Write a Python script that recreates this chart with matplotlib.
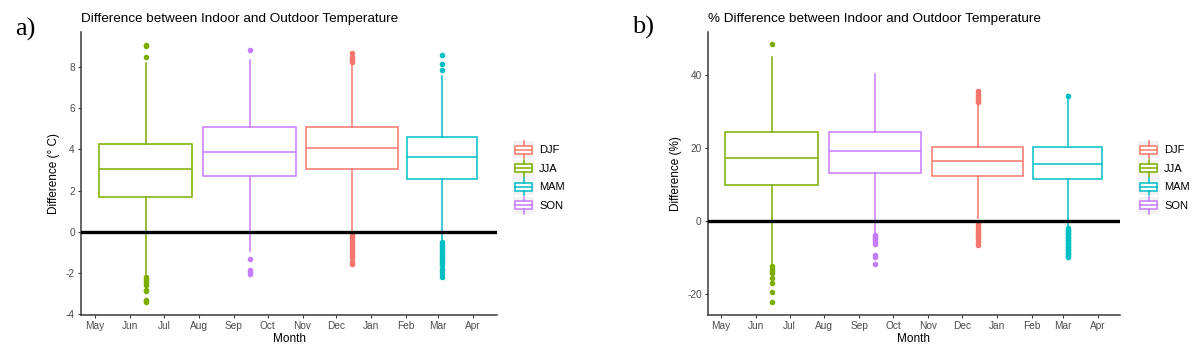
import matplotlib
matplotlib.use("Agg")
import matplotlib.pyplot as plt
import matplotlib.dates as mdates
from matplotlib.patches import Rectangle
from matplotlib.lines import Line2D
from matplotlib.legend_handler import HandlerBase
from datetime import datetime, timedelta

plt.rcParams['font.family'] = ['Liberation Sans', 'DejaVu Sans']

# ---------------- data ----------------
seasons = ['DJF', 'JJA', 'MAM', 'SON']
colors = {'DJF': '#F8766D', 'JJA': '#7CAE00', 'MAM': '#00BFC4', 'SON': '#C77CFF'}
box_dates = {'JJA': '2018-06-15', 'SON': '2018-09-15', 'DJF': '2018-12-15', 'MAM': '2019-03-05'}
month_labels = ['May', 'Jun', 'Jul', 'Aug', 'Sep', 'Oct', 'Nov', 'Dec', 'Jan', 'Feb', 'Mar', 'Apr']
month_starts = ['2018-05-01', '2018-06-01', '2018-07-01', '2018-08-01', '2018-09-01', '2018-10-01',
                '2018-11-01', '2018-12-01', '2019-01-01', '2019-02-01', '2019-03-01', '2019-04-01']

# [lower whisker, Q1, median, Q3, upper whisker]  (deg C)
abs_stats = {
    'JJA': [-2.04, 1.68, 3.02, 4.27, 8.17],
    'SON': [-0.95, 2.68, 3.86, 5.10, 8.34],
    'DJF': [0.05, 3.02, 4.06, 5.10, 8.14],
    'MAM': [-0.40, 2.58, 3.62, 4.59, 7.53],
}
abs_outliers = {
    'JJA': [8.47, 9.00, 9.05, -2.2, -2.3, -2.4, -2.5, -2.6, -2.8, -2.85, -3.3, -3.35, -3.4],
    'SON': [8.82, -1.34, -1.85, -1.95, -2.05],
    'DJF': [8.22, 8.30, 8.38, 8.45, 8.65, -0.15, -0.25, -0.4, -0.55, -0.65, -0.75, -0.85,
            -0.95, -1.05, -1.15, -1.25, -1.45, -1.55],
    'MAM': [7.85, 8.15, 8.55, -0.5, -0.6, -0.7, -0.8, -0.9, -1.0, -1.1, -1.2, -1.3, -1.4,
            -1.5, -1.6, -1.8, -1.9, -2.05, -2.2],
}
# [lower whisker, Q1, median, Q3, upper whisker]  (%)
pct_stats = {
    'JJA': [-12.0, 9.86, 17.3, 24.4, 45.0],
    'SON': [-3.4, 13.2, 19.2, 24.4, 40.3],
    'DJF': [0.7, 12.3, 16.3, 20.4, 32.2],
    'MAM': [-1.5, 11.4, 15.6, 20.4, 34.0],
}
pct_outliers = {
    'JJA': [48.5, -12.5, -13.2, -13.8, -14.4, -15.7, -17.0, -19.4, -22.3],
    'SON': [-3.8, -4.3, -4.8, -5.3, -5.9, -6.3, -9.3, -10.0, -11.8],
    'DJF': [32.5, 33.0, 33.5, 34.0, 34.5, 35.0, 35.5, -0.6, -1.2, -1.8, -2.4, -3.0, -3.6,
            -4.2, -4.8, -5.4, -6.0, -6.6],
    'MAM': [34.3, -2.0, -2.4, -2.8, -3.2, -3.6, -4.0, -4.4, -4.8, -5.2, -5.6, -6.0, -6.4,
            -6.8, -7.2, -7.6, -8.0, -8.4, -8.8, -9.2, -9.6, -9.8],
}

# ---------------- style ----------------
box_widths = {'JJA': 82, 'SON': 82, 'DJF': 81, 'MAM': 62}  # days
LW = 1.1
GRAY = '#4D4D4D'


class BoxKey(HandlerBase):
    def create_artists(self, legend, orig, xd, yd, w, h, fs, trans):
        c = orig.get_color()
        x0, y0 = -xd, -yd
        arts = [Rectangle((x0, y0), w, h, fc='#F2F2F2', ec='none', transform=trans),
                Rectangle((x0 + 0.1 * w, y0 + 0.27 * h), 0.8 * w, 0.46 * h, fc='white', ec=c,
                          lw=LW, transform=trans),
                Line2D([x0 + 0.1 * w, x0 + 0.9 * w], [y0 + 0.5 * h] * 2, color=c, lw=LW, transform=trans),
                Line2D([x0 + 0.5 * w] * 2, [y0, y0 + 0.27 * h], color=c, lw=LW, transform=trans),
                Line2D([x0 + 0.5 * w] * 2, [y0 + 0.73 * h, y0 + h], color=c, lw=LW, transform=trans)]
        return arts


W, H = 1200, 355
fig = plt.figure(figsize=(W / 100, H / 100), dpi=100)

may1 = datetime(2018, 5, 1)


def draw_panel(ax, stats, outl, xlim_days, ylim, yticks, ylabel, title, tag, tag_xy, title_x, leg_xy):
    for s in ['JJA', 'SON', 'DJF', 'MAM']:
        c = colors[s]
        lo, q1, med, q3, hi = stats[s]
        st = dict(whislo=lo, q1=q1, med=med, q3=q3, whishi=hi, fliers=outl[s])
        pos = mdates.datestr2num(box_dates[s])
        ax.bxp([st], positions=[pos], widths=[box_widths[s]], showcaps=False, patch_artist=True,
               boxprops=dict(facecolor='white', edgecolor=c, lw=LW),
               medianprops=dict(color=c, lw=LW),
               whiskerprops=dict(color=c, lw=LW),
               flierprops=dict(marker='o', mfc=c, mec=c, ms=3.0, lw=0),
               manage_ticks=False)
    ax.axhline(0, color='black', lw=2.4, zorder=5)
    ax.set_xlim(mdates.date2num(may1 + timedelta(days=xlim_days[0])),
                mdates.date2num(may1 + timedelta(days=xlim_days[1])))
    ax.set_ylim(*ylim)
    ax.set_xticks([mdates.datestr2num(d) for d in month_starts])
    ax.set_xticklabels(month_labels)
    ax.set_yticks(yticks)
    ax.set_yticklabels([str(v) for v in yticks])
    for sp in ['top', 'right']:
        ax.spines[sp].set_visible(False)
    for sp in ['left', 'bottom']:
        ax.spines[sp].set_color('#3A3A3A')
        ax.spines[sp].set_linewidth(1.1)
    ax.tick_params(axis='both', colors='#3A3A3A', labelcolor=GRAY, labelsize=7.3, length=2.5, width=0.8, pad=2)
    ax.set_xlabel('Month', fontsize=8.5, labelpad=1)
    ax.set_ylabel(ylabel, fontsize=8.5, labelpad=4)
    fig.text(title_x / W, 1 - 19 / H, title, fontsize=9.7, ha='left', va='center')
    fig.text(tag_xy[0] / W, 1 - tag_xy[1] / H, tag, fontsize=19, family='Liberation Serif',
             ha='left', va='center')
    handles = [Line2D([], [], color=colors[s]) for s in seasons]
    ax.legend(handles, seasons, handler_map={Line2D: BoxKey()}, loc='upper left',
              bbox_to_anchor=(leg_xy[0] / W, 1 - leg_xy[1] / H), bbox_transform=fig.transFigure,
              frameon=False, fontsize=8, handlelength=1.9, handleheight=2.0, labelspacing=0.12,
              handletextpad=0.45, borderpad=0, borderaxespad=0)


ax1 = fig.add_axes([81 / W, 1 - 315 / H, 416 / W, 283 / H])
draw_panel(ax1, abs_stats, abs_outliers, (-12.4, 356.4), (-4.03, 9.68), [-4, -2, 0, 2, 4, 6, 8],
           'Difference (° C)', 'Difference between Indoor and Outdoor Temperature', 'a)', (15, 29), 81,
           (513, 141))

ax2 = fig.add_axes([708 / W, 1 - 315 / H, 412 / W, 283 / H])
draw_panel(ax2, pct_stats, pct_outliers, (-11.5, 354.6), (-25.8, 51.8), [-20, 0, 20, 40],
           'Difference (%)', '% Difference between Indoor and Outdoor Temperature', 'b)', (632, 27), 708,
           (1138, 141))

fig.savefig('out.png', dpi=100)
